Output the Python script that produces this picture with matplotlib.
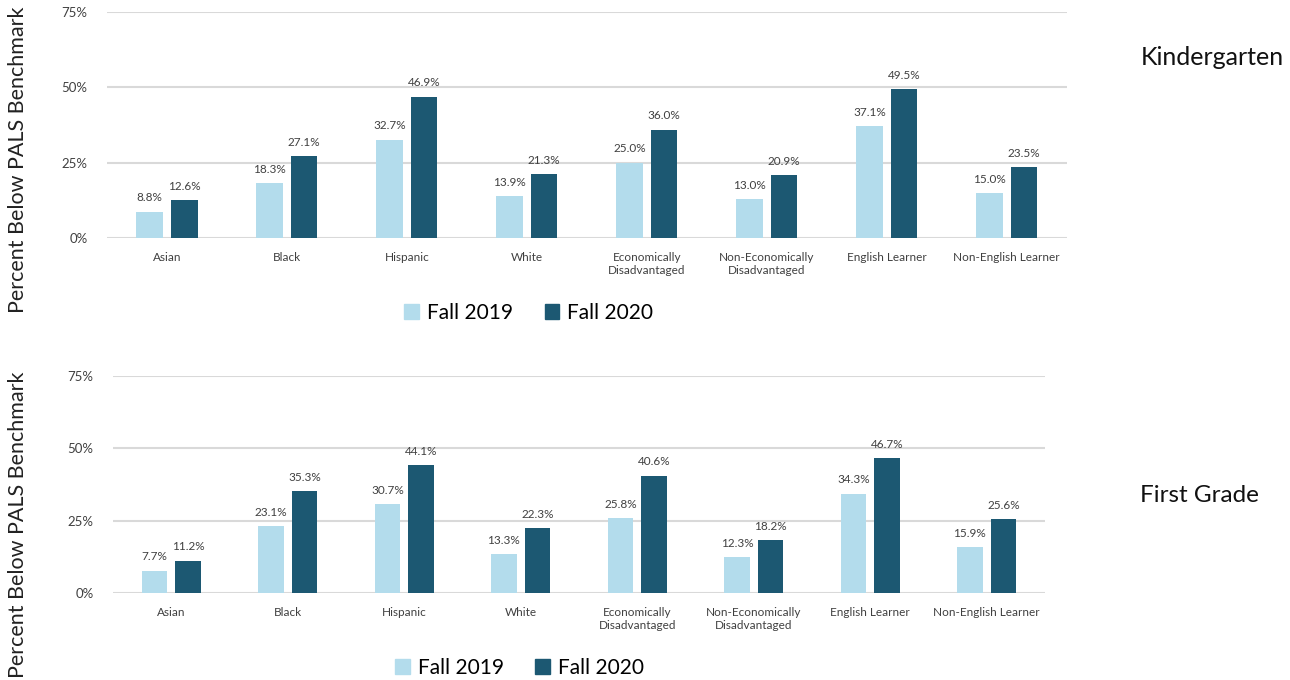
import matplotlib

matplotlib.use("Agg")
import matplotlib.pyplot as plt  # noqa: E402
import numpy as np  # noqa: E402
from matplotlib.patches import Patch  # noqa: E402

plt.rcParams["font.family"] = ["Lato", "DejaVu Sans"]

CATEGORIES = ["Asian", "Black", "Hispanic", "White", "Economically\nDisadvantaged",
              "Non-Economically\nDisadvantaged", "English Learner", "Non-English Learner"]
SERIES = ["Fall 2019", "Fall 2020"]
K_2019 = [8.8, 18.3, 32.7, 13.9, 25.0, 13.0, 37.1, 15.0]
K_2020 = [12.6, 27.1, 46.9, 21.3, 36.0, 20.9, 49.5, 23.5]
G1_2019 = [7.7, 23.1, 30.7, 13.3, 25.8, 12.3, 34.3, 15.9]
G1_2020 = [11.2, 35.3, 44.1, 22.3, 40.6, 18.2, 46.7, 25.6]
Y_TICKS = [0, 25, 50, 75]

LIGHT = "#B3DCEC"
DARK = "#1C5872"
TXT = "#404040"


def draw_panel(fig, rect, v19, v20, title, title_size, title_y, legend_xy, ylab_y):
    ax = fig.add_axes(rect)
    x = np.arange(len(CATEGORIES))
    w = 0.22
    b1 = ax.bar(x - 0.145, v19, w, color=LIGHT, zorder=3)
    b2 = ax.bar(x + 0.145, v20, w, color=DARK, zorder=3)
    for bars, vals in ((b1, v19), (b2, v20)):
        for b, v in zip(bars, vals):
            ax.annotate(f"{v:.1f}%", (b.get_x() + b.get_width() / 2, v),
                        xytext=(0, 6), textcoords="offset points",
                        ha="center", va="bottom", fontsize=8.5, color=TXT)
    ax.set_xlim(-0.5, len(CATEGORIES) - 0.5)
    ax.set_ylim(0, 75)
    ax.set_yticks(Y_TICKS)
    ax.set_yticklabels([f"{t}%" for t in Y_TICKS], fontsize=9.5, color=TXT)
    ax.set_xticks(x)
    ax.set_xticklabels(CATEGORIES, fontsize=8.5, color=TXT, va="top")
    ax.tick_params(length=0, pad=10)
    ax.tick_params(axis="y", pad=14)
    ax.grid(axis="y", color="#D9D9D9", lw=1.5, zorder=0)
    for s in ax.spines.values():
        s.set_visible(False)
    fig.text(0.014, ylab_y, "Percent Below PALS Benchmark", fontsize=15.5,
             color="#222222", rotation=90, ha="center", va="center")
    fig.text(0.884, title_y, title, fontsize=title_size, color="#111111", va="center")
    handles = [Patch(color=LIGHT), Patch(color=DARK)]
    fig.legend(handles, SERIES, loc="center", bbox_to_anchor=legend_xy, ncol=2,
               frameon=False, fontsize=15, handlelength=0.7, handleheight=0.7,
               handletextpad=0.4, columnspacing=1.5)
    return ax


fig = plt.figure(figsize=(12.9, 6.8), dpi=100)
draw_panel(fig, [0.0829, 0.65, 0.744, 0.332], K_2019, K_2020,
           "Kindergarten", 18, 0.915, (0.41, 0.54), 0.765)
draw_panel(fig, [0.0876, 0.128, 0.7225, 0.319], G1_2019, G1_2020,
           "First Grade", 17.5, 0.272, (0.403, 0.018), 0.228)
fig.savefig("out.png", dpi=100)
